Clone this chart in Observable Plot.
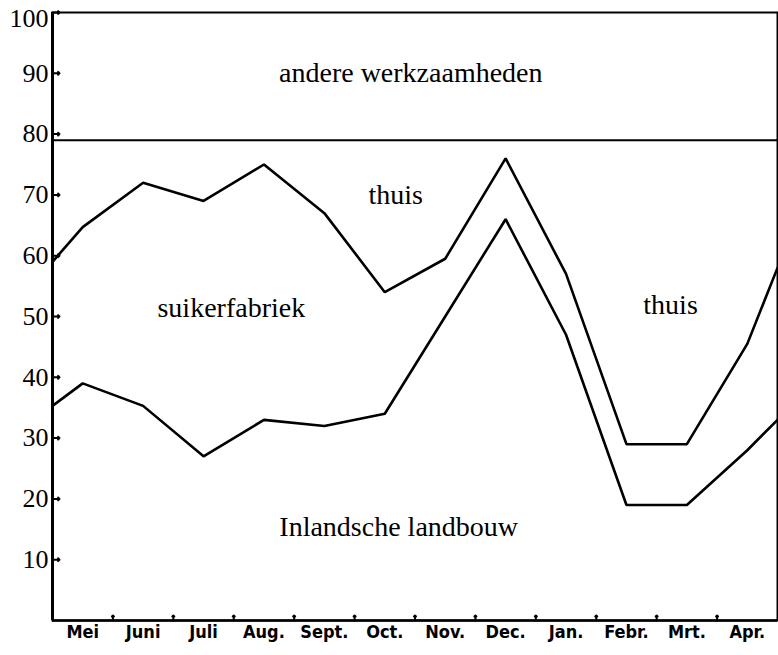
<!DOCTYPE html>
<html><head><meta charset="utf-8">
<script src="https://cdn.jsdelivr.net/npm/d3@7"></script>
<script src="https://cdn.jsdelivr.net/npm/@observablehq/plot@0.6"></script>
<style>body{margin:0;background:#fff;} svg{display:block}</style>
</head><body><div id="chart"></div>
<script>
// Month categories (May .. April)
const months = ["Mei","Juni","Juli","Aug.","Sept.","Oct.","Nov.","Dec.","Jan.","Febr.","Mrt.","Apr."];
// Upper boundary of "suikerfabriek" (cumulative %), at each month
const factoryTop = [64.7, 72, 69, 75, 67, 54, 59.5, 76, 57, 29, 29, 45.5];
const factoryTopStart = 59, factoryTopEnd = 58;
// Upper boundary of "Inlandsche landbouw" (cumulative %), at each month
const agriTop = [39, 35.3, 27, 33, 32, 34, 50, 66, 47, 19, 19, 28];
const agriTopStart = 35.3, agriTopEnd = 33;
// Lower boundary of "andere werkzaamheden"
const otherWorkFrom = 79;
const yTicks = [10, 20, 30, 40, 50, 60, 70, 80, 90, 100];
// Region labels (month-position, percent)
const labelText = ["andere werkzaamheden", "thuis", "suikerfabriek", "thuis", "Inlandsche landbouw"];
const labelX = [5.93, 5.68, 2.96, 10.23, 5.73];
const labelY = [90, 70, 51.4, 51.9, 15.3];

const series = (start, vals, end) => [
  {m: 0, v: start},
  ...vals.map((v, i) => ({m: i + 0.5, v})),
  {m: months.length, v: end}
];
const boundaries = d3.range(1, months.length);
const labels = labelText.map((t, i) => ({t, x: labelX[i], y: labelY[i]}));
const topTick = d3.max(yTicks);
const serif = "'Liberation Serif', 'Times New Roman', serif";
const narrow = "'DejaVu Sans Condensed', 'Liberation Sans Narrow', 'DejaVu Sans', sans-serif";

const chart = Plot.plot({
  width: 778, height: 655,
  marginTop: 12, marginBottom: 35, marginLeft: 52, marginRight: 1,
  x: {domain: [0, months.length], axis: null},
  y: {domain: [0, 100], axis: null},
  style: {background: "#fff", color: "#000"},
  marks: [
    Plot.frame({stroke: "#000", strokeWidth: 2}),
    Plot.ruleX([0], {stroke: "#000", strokeWidth: 3}),
    Plot.ruleY([0], {stroke: "#000", strokeWidth: 2.5}),
    Plot.ruleY([otherWorkFrom], {stroke: "#000", strokeWidth: 2}),
    Plot.line(series(factoryTopStart, factoryTop, factoryTopEnd), {x: "m", y: "v", stroke: "#000", strokeWidth: 2.6, strokeLinejoin: "miter"}),
    Plot.line(series(agriTopStart, agriTop, agriTopEnd), {x: "m", y: "v", stroke: "#000", strokeWidth: 2.6, strokeLinejoin: "miter"}),
    Plot.vector(yTicks, {y: d => d, frameAnchor: "left", length: 7, rotate: 90, anchor: "start", stroke: "#000", strokeWidth: 2}),
    Plot.vector(boundaries, {x: d => d, frameAnchor: "bottom", length: 5, rotate: 0, anchor: "start", stroke: "#000", strokeWidth: 2}),
    Plot.text(yTicks.filter(d => d !== topTick), {y: d => d, frameAnchor: "left", dx: -4, textAnchor: "end", text: d => String(d), fontSize: 26, fontFamily: serif, fill: "#000"}),
    Plot.text([topTick], {y: d => d, frameAnchor: "left", dx: -4, dy: 6, textAnchor: "end", text: d => String(d), fontSize: 26, fontFamily: serif, fill: "#000"}),
    Plot.text(months, {x: (d, i) => i + 0.5, frameAnchor: "bottom", dy: 17, text: d => d, fontSize: 18, fontWeight: "bold", fontFamily: narrow, fill: "#000"}),
    Plot.text(labels, {x: "x", y: "y", text: "t", fontSize: 28, fontFamily: serif, fill: "#000"})
  ]
});
document.getElementById("chart").appendChild(chart);
</script>
</body></html>
